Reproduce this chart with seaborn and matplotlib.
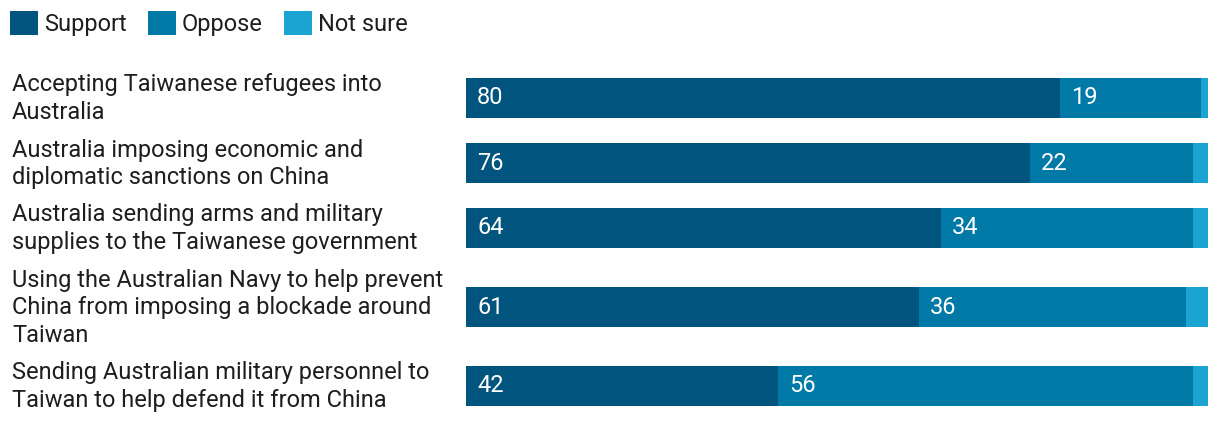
import matplotlib
matplotlib.use("Agg")
import matplotlib.pyplot as plt
import matplotlib.transforms as mtransforms
from matplotlib.patches import Patch
import seaborn as sns
import numpy as np
import pandas as pd

# datos
categorias = [
    "Accepting Taiwanese refugees into\nAustralia",
    "Australia imposing economic and\ndiplomatic sanctions on China",
    "Australia sending arms and military\nsupplies to the Taiwanese government",
    "Using the Australian Navy to help prevent\nChina from imposing a blockade around\nTaiwan",
    "Sending Australian military personnel to\nTaiwan to help defend it from China",
]
support = [80, 76, 64, 61, 42]
oppose = [19, 22, 34, 36, 56]
not_sure = [1, 2, 2, 3, 2]

series = ["Support", "Oppose", "Not sure"]
colores = ["#00547d", "#0079a6", "#1ba3d2"]
texto = "#1e1e1e"

sns.set_style("white")
plt.rcParams["font.family"] = ["Roboto", "DejaVu Sans"]

# posiciones de las filas segun el numero de lineas de cada etiqueta
lineas = np.array([c.count("\n") + 1 for c in categorias])
alto_fila = 28 * lineas + 9
pos = np.concatenate([[0], np.cumsum((alto_fila[:-1] + alto_fila[1:]) / 2)])

df = pd.DataFrame({"pos": pos, "Support": support, "Oppose": oppose, "Not sure": not_sure})
df["c1"] = df["Support"]
df["c2"] = df["Support"] + df["Oppose"]
df["c3"] = df["c2"] + df["Not sure"]

fig = plt.figure(figsize=(12.2, 4.28), dpi=100)
ax = fig.add_axes([466 / 1220, 0, 742 / 1220, 368 / 428])

ancho = 40 / np.diff(pos).min()
for col, color in zip(["c3", "c2", "c1"], colores[::-1]):
    sns.barplot(data=df, x=col, y="pos", orient="y", native_scale=True,
                color=color, width=ancho, saturation=1, linewidth=0, ax=ax)

# etiquetas de valores
for _, fila in df.iterrows():
    ax.annotate(f"{fila['Support']:.0f}", (0, fila["pos"]), xytext=(8, 0),
                textcoords="offset points", color="white", fontsize=17, va="center")
    ax.annotate(f"{fila['Oppose']:.0f}", (fila["Support"], fila["pos"]), xytext=(8, 0),
                textcoords="offset points", color="white", fontsize=17, va="center")

ax.set_xlim(0, 100)
ax.set_ylim(pos[0] + 330, pos[0] - 38)
ax.set_yticks(pos)
ax.set_yticklabels(categorias, fontsize=17, color=texto, ha="left", linespacing=1.27)
ax.tick_params(axis="y", length=0, pad=(466 - 12) * 0.72)
# subir un poco las etiquetas
subir = mtransforms.ScaledTranslation(0, 4 / 100, fig.dpi_scale_trans)
for lbl in ax.get_yticklabels():
    lbl.set_transform(lbl.get_transform() + subir)
ax.set_xticks([])
ax.set_xlabel("")
ax.set_ylabel("")
sns.despine(ax=ax, left=True, bottom=True)

handles = [Patch(facecolor=c, edgecolor="none") for c in colores]
fig.legend(handles, series, loc="upper left", bbox_to_anchor=(10 / 1220, 1 - 11 / 428),
           ncol=3, frameon=False, fontsize=17, labelcolor=texto,
           handlelength=1.19, handleheight=1.19, handletextpad=0.25,
           columnspacing=0.9, borderaxespad=0, borderpad=0)

plt.savefig("out.png", dpi=100)
